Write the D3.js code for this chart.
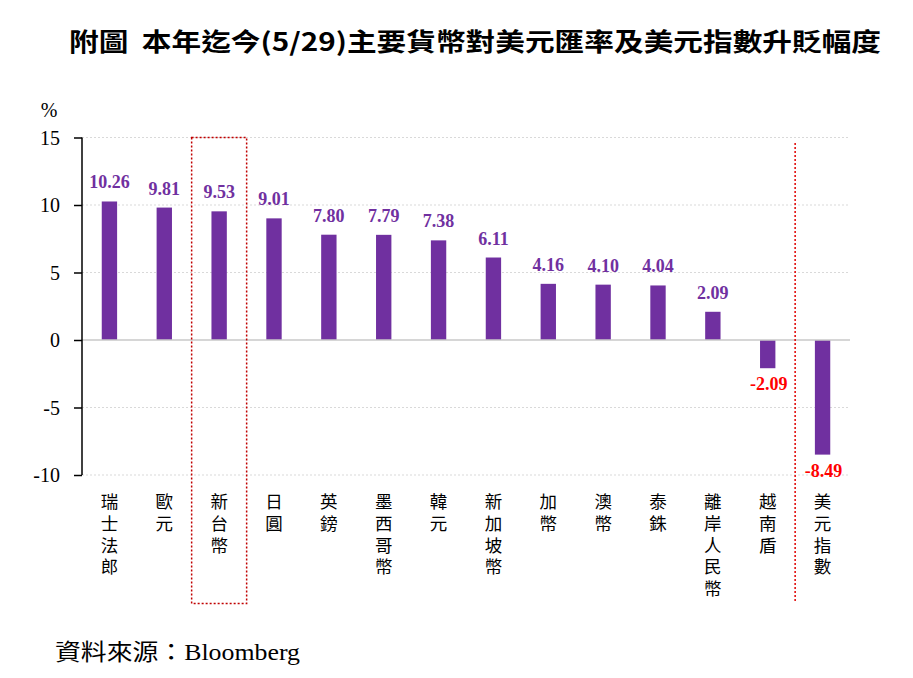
<!DOCTYPE html>
<html><head><meta charset="utf-8">
<script src="https://cdn.jsdelivr.net/npm/d3@7"></script>
<style>body{margin:0;background:#fff}</style>
</head><body>
<svg id="c" width="913" height="678"></svg>
<script>
const categories = ["瑞士法郎","歐元","新台幣","日圓","英鎊","墨西哥幣","韓元","新加坡幣","加幣","澳幣","泰銖","離岸人民幣","越南盾","美元指數"];
const values = [10.26, 9.81, 9.53, 9.01, 7.80, 7.79, 7.38, 6.11, 4.16, 4.10, 4.04, 2.09, -2.09, -8.49];
const yTicks = [15, 10, 5, 0, -5, -10];
const title = "附圖  本年迄今(5/29)主要貨幣對美元匯率及美元指數升貶幅度";
const source = "資料來源：Bloomberg";

const svg = d3.select("#c");
const m = {l: 82, r: 850, t: 137.5, b: 475};
const x = d3.scaleBand().domain(categories).range([m.l, m.r]).paddingInner(0.72).paddingOuter(0.36);
const y = d3.scaleLinear().domain([-10, 15]).range([m.b, m.t]);
const serif = "'Liberation Serif','Times New Roman',serif";
const cjk = "'Noto Sans CJK TC','Noto Sans CJK SC',sans-serif";

// title
svg.append("text").attr("x", 475).attr("y", 51).attr("text-anchor", "middle")
  .attr("font-family", cjk).attr("font-weight", "bold").attr("font-size", 25)
  .attr("textLength", 812).attr("lengthAdjust", "spacingAndGlyphs")
  .attr("xml:space", "preserve").style("white-space", "pre").text(title);

// gridlines
svg.append("g").selectAll("line").data(yTicks.filter(d => d !== 0)).join("line")
  .attr("x1", m.l).attr("x2", m.r).attr("y1", d => y(d)).attr("y2", d => y(d))
  .attr("stroke", "#d9d9d9").attr("stroke-width", 1).attr("stroke-dasharray", "2,2");

// bars
svg.append("g").selectAll("rect").data(values).join("rect")
  .attr("x", (d, i) => x(categories[i])).attr("width", x.bandwidth())
  .attr("y", d => y(Math.max(0, d))).attr("height", d => Math.abs(y(d) - y(0)))
  .attr("fill", "#7030A0");

// zero line
svg.append("line").attr("x1", m.l).attr("x2", m.r).attr("y1", y(0)).attr("y2", y(0))
  .attr("stroke", "#c8c8c8").attr("stroke-width", 1.5);

// y axis
const ax = svg.append("g").attr("transform", `translate(${m.l},0)`)
  .call(d3.axisLeft(y).tickValues(yTicks).tickSize(8).tickPadding(14).tickFormat(d => String(d)));
ax.select(".domain").attr("stroke", "#000").attr("stroke-width", 1.5).attr("d", `M0,${m.t}V${m.b}`);
ax.selectAll(".tick line").attr("stroke", "#000").attr("stroke-width", 1.5);
ax.selectAll(".tick text").attr("font-family", serif).attr("font-size", 20).attr("fill", "#000").attr("dy", "0.33em");

svg.append("text").attr("x", 49).attr("y", 117).attr("text-anchor", "middle")
  .attr("font-family", serif).attr("font-size", 20).text("%");

// value labels
svg.append("g").selectAll("text").data(values).join("text")
  .attr("x", (d, i) => x(categories[i]) + x.bandwidth() / 2 + (d < 0 ? 1 : 0))
  .attr("y", d => d >= 0 ? y(d) - 13 : y(d) + 22)
  .attr("text-anchor", "middle").attr("font-family", serif).attr("font-weight", "bold")
  .attr("font-size", 18).attr("fill", d => d >= 0 ? "#7030A0" : "#FF0000")
  .text(d => d.toFixed(2));

// category labels (vertical writing)
svg.append("g").selectAll("text").data(categories).join("text")
  .attr("x", d => x(d) + x.bandwidth() / 2).attr("y", 493)
  .style("writing-mode", "vertical-rl").style("text-orientation", "upright")
  .attr("letter-spacing", 4.2)
  .attr("font-family", cjk).attr("font-size", 17.5).attr("fill", "#000").text(d => d);

// dotted red box around 新台幣
const bx = x("新台幣") + x.bandwidth() / 2;
svg.append("rect").attr("x", bx - 27.5).attr("y", 137.5).attr("width", 55).attr("height", 466)
  .attr("fill", "none").attr("stroke", "#C00000").attr("stroke-width", 1.5).attr("stroke-dasharray", "2,2");

// red dotted vertical separator
const sx = (x("越南盾") + x.bandwidth() + x("美元指數")) / 2;
svg.append("line").attr("x1", sx).attr("x2", sx).attr("y1", 143).attr("y2", 602)
  .attr("stroke", "#E00000").attr("stroke-width", 1.5).attr("stroke-dasharray", "2,2");

// source
svg.append("text").attr("x", 55).attr("y", 660).attr("font-family", "'Liberation Serif','Noto Sans CJK TC',serif")
  .attr("font-size", 23).attr("textLength", 245).attr("lengthAdjust", "spacingAndGlyphs").text(source);
</script>
</body></html>
